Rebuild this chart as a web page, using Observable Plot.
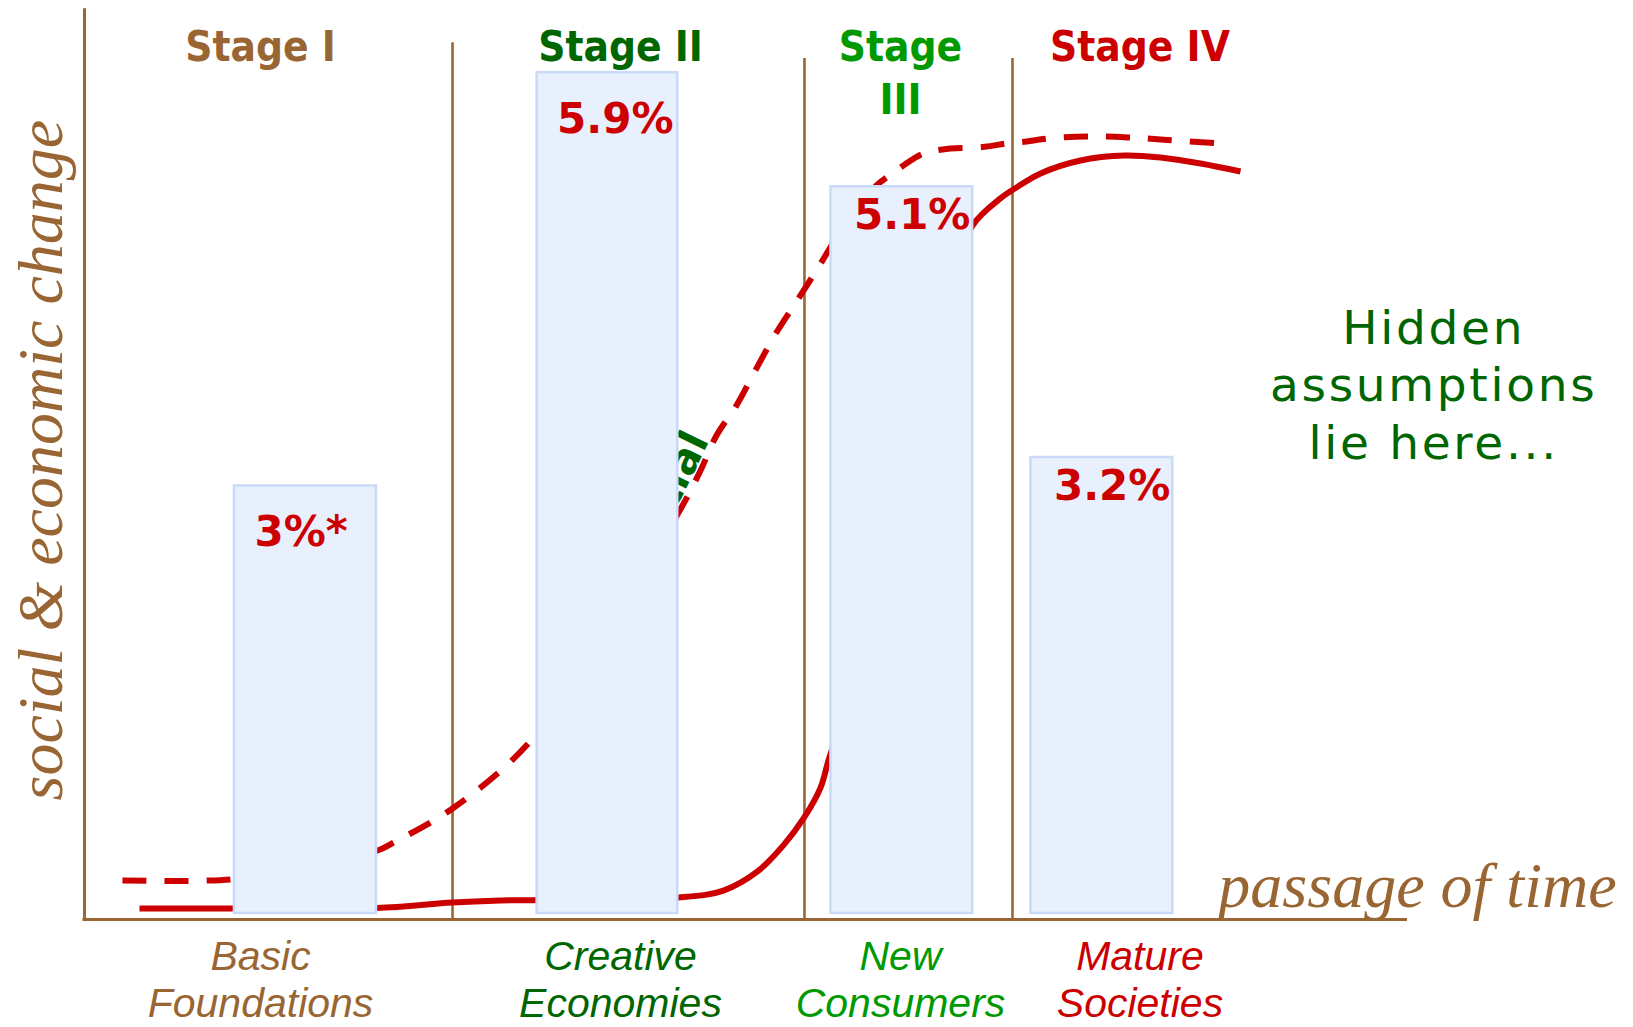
<!DOCTYPE html>
<html>
<head>
<meta charset="utf-8">
<script src="https://cdn.jsdelivr.net/npm/d3@7"></script>
<script src="https://cdn.jsdelivr.net/npm/@observablehq/plot@0.6"></script>
<style>
  html, body { margin: 0; padding: 0; background: #ffffff; }
  #chart svg { display: block; overflow: visible; }
</style>
</head>
<body>
<div id="chart"></div>
<script>
// ---- data (time in arbitrary units 0–100, level in % growth) ----
const stages = ["Stage I", "Stage II", "Stage\nIII", "Stage IV"];
const stageBounds = [0, 23.76, 46.48, 59.91, 77.4];
const categories = ["Basic\nFoundations", "Creative\nEconomies", "New\nConsumers", "Mature\nSocieties"];
const growth = [3, 5.9, 5.1, 3.2];
const growthLabels = ["3%*", "5.9%", "5.1%", "3.2%"];
const periodStart = [9.68, 29.22, 48.19, 61.10];
const periodEnd = [18.85, 38.30, 57.34, 70.26];

const solidTime  = [3.55, 9.68, 18.85, 23.76, 26.86, 38.35, 41.25, 43.45, 45.13, 46.42, 47.52, 48.03, 50.10, 52.03, 53.97, 55.91, 57.33, 59.13, 60.17, 61.72, 64.30, 67.14, 69.46, 72.05, 74.63];
const solidLevel = [0.035, 0.035, 0.038, 0.077, 0.091, 0.112, 0.161, 0.295, 0.480, 0.667, 0.884, 1.074, 1.775, 2.758, 3.670, 4.407, 4.828, 5.018, 5.095, 5.193, 5.284, 5.319, 5.305, 5.263, 5.207];

const dashedTime  = [2.45, 9.43, 13.94, 18.92, 19.95, 23.76, 28.53, 33.31, 38.61, 39.77, 40.80, 42.09, 43.38, 44.67, 46.22, 47.64, 49.45, 51.13, 51.91, 52.94, 54.10, 55.39, 58.10, 59.52, 60.81, 62.23, 64.94, 67.40, 69.46, 73.21];
const dashedLevel = [0.232, 0.239, 0.316, 0.442, 0.498, 0.737, 1.179, 1.916, 2.863, 3.109, 3.354, 3.565, 3.825, 4.077, 4.337, 4.582, 4.898, 5.109, 5.175, 5.255, 5.330, 5.362, 5.380, 5.404, 5.418, 5.439, 5.453, 5.446, 5.432, 5.404];

const yTitle = "social & economic change";
const xTitle = "passage of time";
const curveNote = "Potential";
const sideNote = "Hidden\nassumptions\nlie here...";

// ---- styles ----
const brown = "#996633", darkGreen = "#006600", green = "#009900", red = "#cc0000";
const stageColors = [brown, darkGreen, green, red];

// ---- tables built from the arrays ----
const stageTable = stages.map((s, i) => ({
  name: s, cat: categories[i], mid: (stageBounds[i] + stageBounds[i + 1]) / 2, color: stageColors[i]
}));
const dividers = stageBounds.slice(1, 4).map((b, i) => ({x: b, top: i === 0 ? 6.11 : 6.0}));
const bars = growth.map((g, i) => ({start: periodStart[i], end: periodEnd[i], value: g, label: growthLabels[i]}));
const solid = solidTime.map((t, i) => ({t, v: solidLevel[i]}));
const dashed = dashedTime.map((t, i) => ({t, v: dashedLevel[i]}));

const boldFont = "'DejaVu Sans Condensed', 'DejaVu Sans', sans-serif";
const serifItalic = "'Liberation Serif', 'DejaVu Serif', serif";
const italicSans = "'Liberation Sans', Arial, sans-serif";

const chart = Plot.plot({
  width: 1633,
  height: 1027,
  marginLeft: 84,
  marginRight: 0,
  marginTop: 1,
  marginBottom: 114,
  x: {domain: [0, 100], axis: null},
  y: {domain: [0, 6.4], axis: null},
  style: {background: "#ffffff", overflow: "visible"},
  marks: [
    // frame
    Plot.ruleX([0], {x: d => d, y1: -0.042, y2: 6.35, stroke: brown, strokeWidth: 3}),
    Plot.ruleY([-0.042], {y: d => d, x1: -0.1, x2: 85.41, stroke: brown, strokeWidth: 3}),
    Plot.ruleX(dividers, {x: "x", y1: -0.042, y2: "top", stroke: brown, strokeWidth: 2.6}),
    // curves (behind the bars)
    Plot.line(dashed, {x: "t", y: "v", curve: "catmull-rom", stroke: red, strokeWidth: 6,
      strokeDasharray: "24,18", strokeLinecap: "butt"}),
    Plot.line(solid, {x: "t", y: "v", curve: "catmull-rom", stroke: red, strokeWidth: 6, strokeLinecap: "butt"}),
    Plot.text([curveNote], {x: 40.35, y: 3.32, text: d => d, rotate: -64, textAnchor: "end", lineAnchor: "bottom",
      fill: darkGreen, fontSize: 42, fontWeight: "bold", fontFamily: "'DejaVu Sans', sans-serif"}),
    // bars
    Plot.rect(bars, {x1: "start", x2: "end", y1: 0, y2: "value", fill: "#e8effd", stroke: "#c9daf8", strokeWidth: 2.5}),
    Plot.text(bars.filter((d, i) => i < 2), {x: "start", y: "value", text: "label", textAnchor: "start", lineAnchor: "bottom",
      dx: 20, dy: 60, fill: red, fontSize: 42, fontWeight: "bold", fontFamily: "'DejaVu Sans', sans-serif"}),
    Plot.text(bars.filter((d, i) => i >= 2), {x: "start", y: "value", text: "label", textAnchor: "start", lineAnchor: "bottom",
      dx: 23, dy: 42, fill: red, fontSize: 42, fontWeight: "bold", fontFamily: "'DejaVu Sans', sans-serif"}),
    // stage titles
    Plot.text(stageTable, {x: "mid", y: 6.241, text: "name", fill: "color", dx: -8, lineAnchor: "top", lineHeight: 1.25,
      fontSize: 42, fontWeight: "bold", fontFamily: boldFont}),
    // category labels under the axis
    Plot.text(stageTable, {x: "mid", y: -0.159, text: "cat", fill: "color", dx: -8, lineAnchor: "top", lineHeight: 1.146,
      fontSize: 41, fontStyle: "italic", fontFamily: italicSans}),
    // axis titles
    Plot.text([yTitle], {x: -1.45, y: 0.793, text: d => d, rotate: -90, textAnchor: "start", lineAnchor: "bottom",
      fill: brown, fontSize: 64, fontStyle: "italic", fontFamily: serifItalic}),
    Plot.text([xTitle], {x: 73.2, y: 0.045, text: d => d, textAnchor: "start", lineAnchor: "bottom",
      fill: brown, fontSize: 64, fontStyle: "italic", fontFamily: serifItalic}),
    // side note
    Plot.text([sideNote], {x: 87.1, y: 4.286, text: d => d, lineAnchor: "top", lineHeight: 1.223,
      fill: darkGreen, fontSize: 47, fontFamily: "'DejaVu Sans', sans-serif"})
  ]
});

document.getElementById("chart").appendChild(chart);
d3.select(chart).selectAll("text")
  .filter(function() { return this.textContent.startsWith("Hidden"); })
  .attr("letter-spacing", "2.7px");
d3.select(chart).selectAll("text")
  .filter(function() { return this.textContent.startsWith("Stage"); })
  .style("font-stretch", "condensed");
</script>
</body>
</html>
